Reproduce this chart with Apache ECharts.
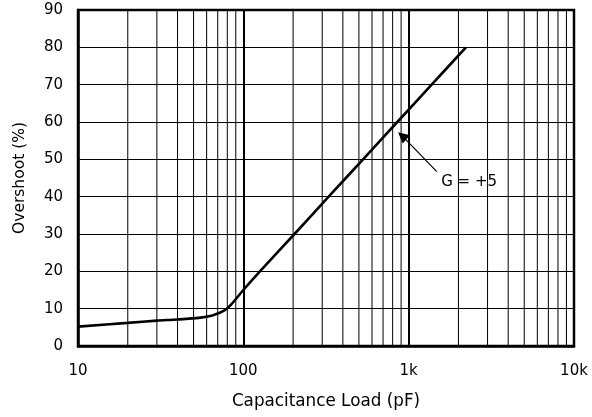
<!DOCTYPE html>
<html>
<head>
<meta charset="utf-8">
<script src="https://cdn.jsdelivr.net/npm/echarts@6/dist/echarts.min.js"></script>
<style>
html,body{margin:0;padding:0;background:#fff;}
#chart{width:592px;height:417px;}
</style>
</head>
<body>
<div id="chart"></div>
<script>
const capacitance = [10, 20, 30, 40, 55, 65, 72, 78, 84, 100, 126, 204, 328, 530, 854, 1377, 2220];
const overshoot   = [5.2, 6.2, 6.8, 7.1, 7.6, 8.2, 8.9, 9.7, 11.0, 15.0, 20, 30, 40, 50, 60, 70, 80];
const xTickLabels = {10: '10', 100: '100', 1000: '1k', 10000: '10k'};
const minorGrid = [20,30,40,50,60,70,80,90,200,300,400,500,600,700,800,900,2000,3000,4000,5000,6000,7000,8000,9000];
const curveLabel = 'G = +5';
const arrowFrom = [1480, 46.7];
const arrowTo = [914, 56.3];
const arrowHeadBase = [1030, 54.3];
const labelAt = [2320, 43.9];

const FONT = "'DejaVu Sans', 'Liberation Sans', Arial, sans-serif";
const chart = echarts.init(document.getElementById('chart'), null, {renderer: 'canvas'});

const series = [];
minorGrid.forEach(v => {
  series.push({
    type: 'line', silent: true, symbol: 'none', animation: false,
    data: [[v, 0], [v, 90]],
    lineStyle: {color: '#000', width: 1}, z: 1
  });
});
series.push({
  type: 'line', symbol: 'none', smooth: 0.3, animation: false,
  data: capacitance.map((c, i) => [c, overshoot[i]]),
  lineStyle: {color: '#000', width: 2.6}, z: 5,
  markPoint: {
    silent: true, animation: false,
    symbol: 'circle', symbolSize: 1,
    itemStyle: {color: 'rgba(0,0,0,0)'},
    label: {show: true, position: 'inside', formatter: curveLabel, color: '#000', fontSize: 15, fontFamily: FONT},
    data: [{coord: labelAt}]
  }
});
series.push({
  type: 'line', symbol: 'none', silent: true, animation: false, z: 6,
  data: [arrowFrom, arrowTo],
  lineStyle: {color: '#000', width: 1.2},
  markLine: {
    silent: true, animation: false,
    symbol: ['none', 'triangle'], symbolSize: 11,
    label: {show: false},
    itemStyle: {color: '#000'},
    lineStyle: {color: '#000', width: 0, opacity: 1},
    data: [[{coord: arrowHeadBase}, {coord: arrowTo}]]
  }
});

chart.setOption({
  backgroundColor: '#fff',
  animation: false,
  grid: {left: 78, top: 10, right: 18, bottom: 71, show: true, borderColor: '#000', borderWidth: 2.5, backgroundColor: 'transparent', z: 10},
  xAxis: {
    type: 'log', logBase: 10, min: 10, max: 10000,
    name: 'Capacitance Load (pF)', nameLocation: 'middle', nameGap: 47,
    nameTextStyle: {color: '#000', fontSize: 16.8, fontFamily: FONT},
    axisLine: {show: true, lineStyle: {color: '#000', width: 2.5}},
    axisTick: {show: false},
    axisLabel: {color: '#000', fontSize: 15, fontFamily: FONT, margin: 18, formatter: v => xTickLabels[Math.round(v)] || ''},
    splitLine: {show: true, lineStyle: {color: '#000', width: 2}}
  },
  yAxis: {
    type: 'value', min: 0, max: 90, interval: 10,
    name: 'Overshoot (%)', nameLocation: 'middle', nameGap: 50,
    nameTextStyle: {color: '#000', fontSize: 15.5, fontFamily: FONT},
    axisLine: {show: true, lineStyle: {color: '#000', width: 2.5}},
    axisTick: {show: false},
    axisLabel: {color: '#000', fontSize: 15, fontFamily: FONT, margin: 15},
    splitLine: {show: true, lineStyle: {color: '#000', width: 1}}
  },
  series: series
});
</script>
</body>
</html>
